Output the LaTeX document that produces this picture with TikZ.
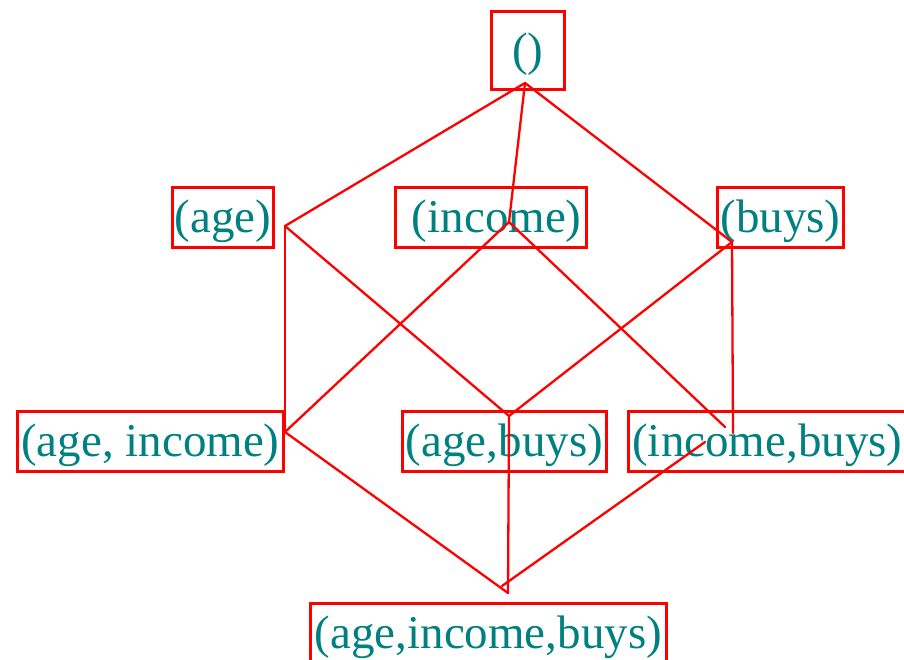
\documentclass[tikz,border=0pt]{standalone}
\usepackage{fontspec}
\setmainfont{Liberation Serif}
\definecolor{tealtext}{RGB}{0,128,128}
\begin{document}
\begin{tikzpicture}[x=1pt,y=-1pt,
  box/.style={draw=red, line width=2.8pt, rectangle, anchor=north west,
    minimum height=60pt, inner sep=0pt, text=tealtext,
    font=\fontsize{47}{50}\selectfont, text height=34pt, text depth=4pt},
  edge/.style={draw=red, line width=2.3pt, line cap=round, line join=round}]
\useasboundingbox (0,0) rectangle (904,660);
% boxes
\node[box, minimum width=73pt, minimum height=78pt] (top) at (490,10) {()};
\node[box, minimum width=101pt] (age) at (171,186) {(age)};
\node[box, minimum width=191pt] (inc) at (394,186) {~(income)};
\node[box, minimum width=126pt] (buy) at (716,186) {(buys)};
\node[box, minimum width=266pt] (ageinc) at (16,410) {(age, income)};
\node[box, minimum width=204pt] (agebuy) at (401,410) {(age,buys)};
\node[box, minimum width=278pt] (incbuy) at (627,410) {(income,buys)};
\node[box, minimum width=356pt] (all) at (309,602) {(age,income,buys)};
% junction points
\coordinate (t) at (525,83);
\coordinate (a) at (285,226);
\coordinate (i) at (509,222);
\coordinate (b) at (732,242);
\coordinate (ai) at (285,432);
\coordinate (ab) at (509,416);
\coordinate (ib1) at (725,427);
\coordinate (ib2) at (733,433);
\coordinate (bot) at (508,593);
\coordinate (botr) at (502,586);
\coordinate (ibs) at (705,442);
% connectors
\draw[edge] (t) -- (a);
\draw[edge] (t) -- (i);
\draw[edge] (t) -- (b);
\draw[edge] (a) -- (ai);
\draw[edge] (a) -- (ab);
\draw[edge] (i) -- (ai);
\draw[edge] (i) -- (ib1);
\draw[edge] (b) -- (ab);
\draw[edge] (b) -- (ib2);
\draw[edge] (ai) -- (bot);
\draw[edge] (ab) -- (bot);
\draw[edge] (botr) -- (ibs);
\end{tikzpicture}
\end{document}
